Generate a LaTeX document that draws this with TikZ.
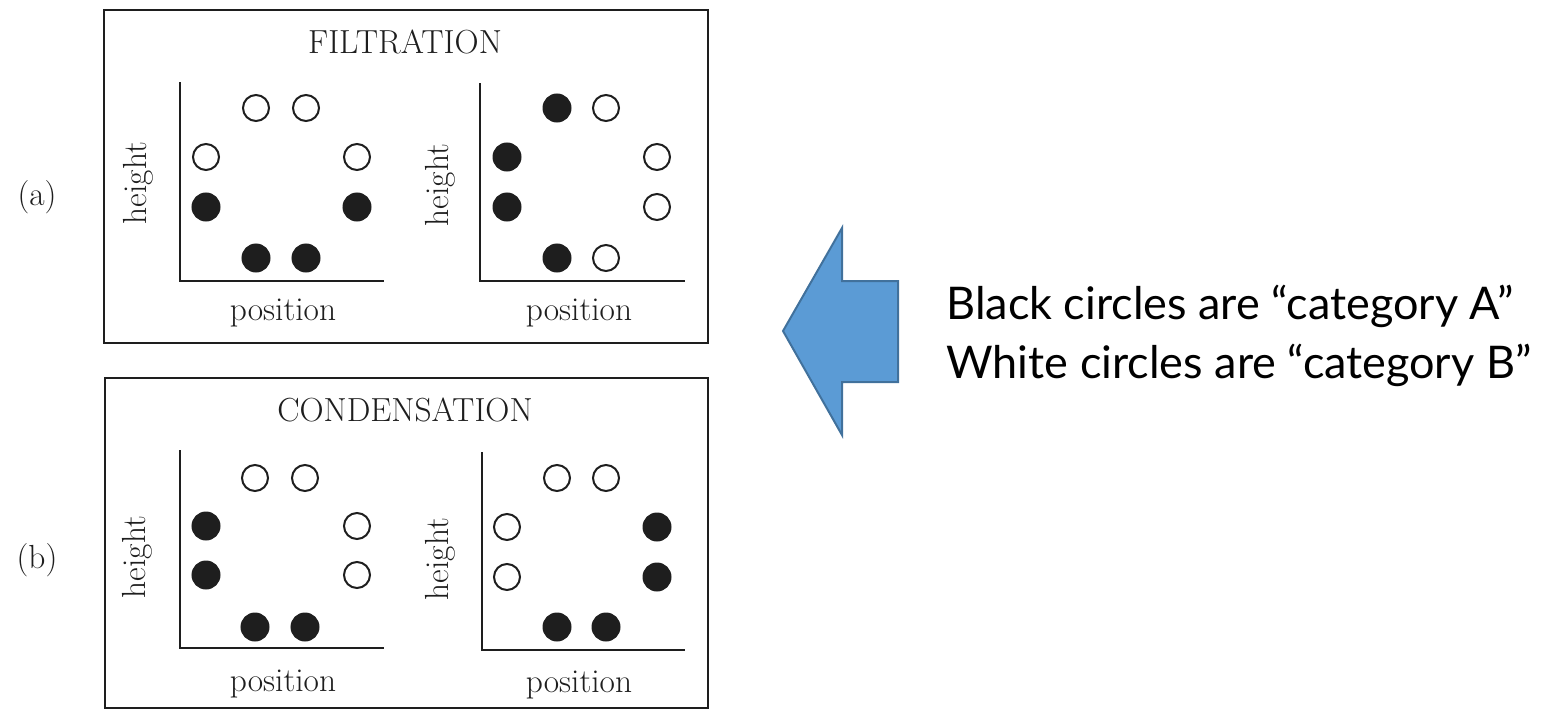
\documentclass[tikz,border=0pt]{standalone}
\usepackage{fontspec}
\newfontfamily\legendfont{Lato}
\definecolor{arrowfill}{HTML}{5B9BD5}
\definecolor{arrowline}{HTML}{41719C}
\definecolor{ink}{HTML}{1E1E1E}
\begin{document}
\begin{tikzpicture}[x=0.5pt,y=-0.5pt,
  frame/.style={draw=ink, line width=1.1pt},
  axis/.style={draw=ink, line width=1.1pt},
  dotA/.style={circle, fill=ink, draw=ink, line width=1pt, minimum size=13.5pt, inner sep=0pt},
  dotB/.style={circle, fill=white, draw=ink, line width=1pt, minimum size=13pt, inner sep=0pt},
  scan/.style={font=\fontsize{16.7}{20}\selectfont, text=ink, inner sep=0pt},
  vlabel/.style={scan, rotate=90},
  legend/.style={font=\legendfont\fontsize{22.5}{27}\selectfont, text=black, inner sep=0pt, anchor=base west},
  bigarrow/.style={fill=arrowfill, draw=arrowline, line width=1pt, line join=miter}
]
\useasboundingbox (0,0) rectangle (1552,712);

% ---------- (a) filtration ----------
\node[scan] (la) at (37,197) {(a)};
\draw[frame] (104,10) rectangle (708,343);
\node[scan] (ta) at (405,42) {FILTRATION};

% left plot
\coordinate (a1top) at (180,82);
\coordinate (a1org) at (180,281);
\coordinate (a1end) at (384,281);
\draw[axis] (a1top) -- (a1org) -- (a1end);
\node[vlabel] (a1h) at (138,183) {height};
\node[scan] (a1p) at (283,313) {position};
\node[dotB] (a1n1) at (256,108) {};
\node[dotB] (a1n2) at (306,108) {};
\node[dotB] (a1n3) at (206,157) {};
\node[dotB] (a1n4) at (357,157) {};
\node[dotA] (a1n5) at (206,207) {};
\node[dotA] (a1n6) at (357,207) {};
\node[dotA] (a1n7) at (256,258) {};
\node[dotA] (a1n8) at (306,258) {};

% right plot
\coordinate (a2top) at (480,83);
\coordinate (a2org) at (480,281);
\coordinate (a2end) at (685,281);
\draw[axis] (a2top) -- (a2org) -- (a2end);
\node[vlabel] (a2h) at (440,185) {height};
\node[scan] (a2p) at (579,313) {position};
\node[dotA] (a2n1) at (557,108) {};
\node[dotB] (a2n2) at (606,108) {};
\node[dotA] (a2n3) at (507,157) {};
\node[dotB] (a2n4) at (657,157) {};
\node[dotA] (a2n5) at (507,207) {};
\node[dotB] (a2n6) at (657,207) {};
\node[dotA] (a2n7) at (557,258) {};
\node[dotB] (a2n8) at (606,258) {};

% ---------- (b) condensation ----------
\node[scan] (lb) at (37,560) {(b)};
\draw[frame] (105,378) rectangle (708,708);
\node[scan] (tb) at (405,410) {CONDENSATION};

% left plot
\coordinate (b1top) at (180,450);
\coordinate (b1org) at (180,648);
\coordinate (b1end) at (384,648);
\draw[axis] (b1top) -- (b1org) -- (b1end);
\node[vlabel] (b1h) at (137,557) {height};
\node[scan] (b1p) at (283,684) {position};
\node[dotB] (b1n1) at (255,478) {};
\node[dotB] (b1n2) at (305,478) {};
\node[dotA] (b1n3) at (206,526) {};
\node[dotB] (b1n4) at (357,526) {};
\node[dotA] (b1n5) at (206,575) {};
\node[dotB] (b1n6) at (357,575) {};
\node[dotA] (b1n7) at (255,627) {};
\node[dotA] (b1n8) at (305,627) {};

% right plot
\coordinate (b2top) at (482,452);
\coordinate (b2org) at (482,650);
\coordinate (b2end) at (685,650);
\draw[axis] (b2top) -- (b2org) -- (b2end);
\node[vlabel] (b2h) at (440,559) {height};
\node[scan] (b2p) at (579,685) {position};
\node[dotB] (b2n1) at (557,478) {};
\node[dotB] (b2n2) at (606,478) {};
\node[dotB] (b2n3) at (507,527) {};
\node[dotA] (b2n4) at (657,527) {};
\node[dotB] (b2n5) at (507,577) {};
\node[dotA] (b2n6) at (657,577) {};
\node[dotA] (b2n7) at (557,627) {};
\node[dotA] (b2n8) at (606,627) {};

% ---------- block arrow and legend ----------
\draw[bigarrow] (783,331) -- (842,228) -- (842,281) -- (898,281)
  -- (898,382) -- (842,382) -- (842,435) -- cycle;
\node[legend] (leg1) at (946,319) {Black circles are “category A”};
\node[legend] (leg2) at (946,378) {White circles are “category B”};
\end{tikzpicture}
\end{document}
